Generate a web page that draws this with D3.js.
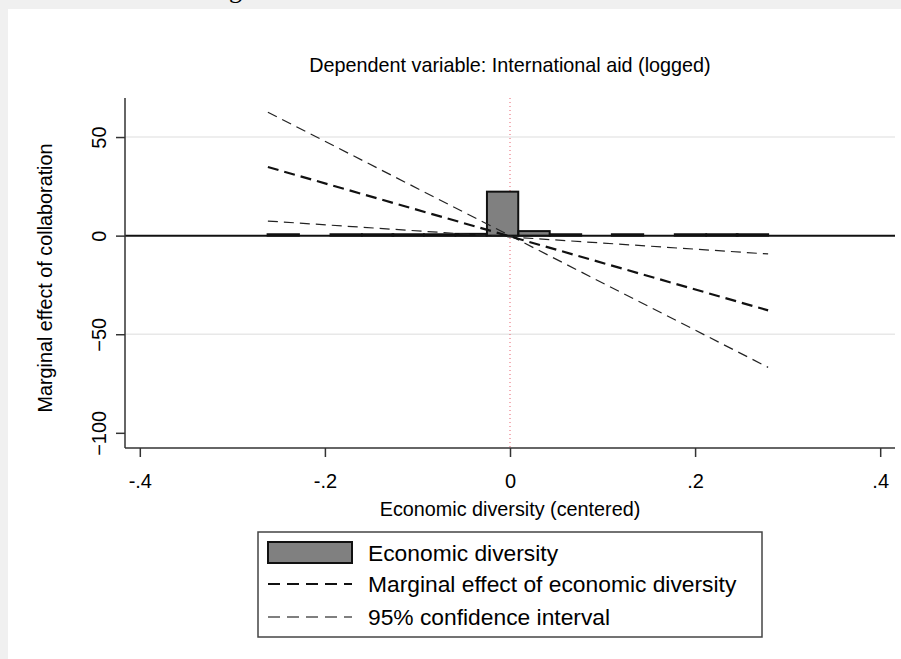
<!DOCTYPE html>
<html>
<head>
<meta charset="utf-8">
<script src="https://cdn.jsdelivr.net/npm/d3@7"></script>
<style>
  body { margin: 0; background: #f0f0f0; }
  text { font-family: "Liberation Sans", Arial, sans-serif; fill: #000; }
</style>
</head>
<body>
<div id="chart"></div>
<script>
// chart data
const lineX = [-0.2616, 0.2789]
const effect = [34.8, -37.9]
// the two confidence bounds cross near zero
const ciBoundA = [62.6, -66.8]
const ciBoundB = [7.4, -9.3]

const binCenters = [-0.245, -0.211, -0.177, -0.143, -0.110, -0.076, -0.042, -0.008,
                    0.026, 0.060, 0.093, 0.127, 0.161, 0.195, 0.229, 0.262]
const binHeights = [0.7, 0, 0.7, 0.7, 0.7, 0.7, 0.9, 22.3, 2.3, 0.7, 0, 0.7, 0, 0.7, 0.7, 0.7]
const binWidth = 0.0338

const xTicks = [-0.4, -0.2, 0, 0.2, 0.4]
const xTickLabels = ["-.4", "-.2", "0", ".2", ".4"]
const yTicks = [-100, -50, 0, 50]
const yGrid = [-50, 50]

const title = "Dependent variable: International aid (logged)"
const xTitle = "Economic diversity (centered)"
const yTitle = "Marginal effect of collaboration"
const legendLabels = ["Economic diversity", "Marginal effect of economic diversity", "95% confidence interval"]

const width = 901, height = 659
const plot = {left: 125, right: 895, top: 98, bottom: 448}

const svg = d3.select("#chart").append("svg")
    .attr("width", width)
    .attr("height", height)

svg.append("rect").attr("width", width).attr("height", height).attr("fill", "#f0f0f0")
svg.append("rect").attr("x", 8).attr("y", 9).attr("width", width - 8).attr("height", height - 9).attr("fill", "#fff")

// leftover of a cropped heading above the figure
svg.append("text").attr("x", 229).attr("y", -2)
    .style("font-family", "'Liberation Serif', serif").style("font-size", "26px")
    .text("g")

const x = d3.scaleLinear().domain([-0.416, 0.416]).range([plot.left, plot.right])
const y = d3.scaleLinear().domain([-107.7, 69.8]).range([plot.bottom, plot.top])

// grid
svg.append("g").selectAll("line").data(yGrid).join("line")
    .attr("x1", plot.left).attr("x2", plot.right)
    .attr("y1", d => y(d)).attr("y2", d => y(d))
    .attr("stroke", "#e8e8e8").attr("stroke-width", 1.5)

// zero line
svg.append("line")
    .attr("x1", plot.left).attr("x2", plot.right)
    .attr("y1", y(0)).attr("y2", y(0))
    .attr("stroke", "#111").attr("stroke-width", 2)

// red dotted x=0
svg.append("line")
    .attr("x1", x(0)).attr("x2", x(0))
    .attr("y1", plot.top).attr("y2", plot.bottom)
    .attr("stroke", "#e8606e").attr("stroke-width", 1)
    .attr("stroke-dasharray", "1,3")

// histogram
const bins = binCenters.map((c, i) => ({c: c, h: binHeights[i]})).filter(d => d.h > 0)
svg.append("g").selectAll("rect").data(bins).join("rect")
    .attr("x", d => x(d.c - binWidth / 2))
    .attr("width", d => x(d.c + binWidth / 2) - x(d.c - binWidth / 2))
    .attr("y", d => y(d.h))
    .attr("height", d => y(0) - y(d.h))
    .attr("fill", "#808080")
    .attr("stroke", "#111")
    .attr("stroke-width", 2)

// lines
const line = d3.line().x(d => x(d[0])).y(d => y(d[1]))
const series = [
    {vals: ciBoundA, w: 1.2, dash: "10,6", col: "#222"},
    {vals: ciBoundB, w: 1.2, dash: "10,6", col: "#222"},
    {vals: effect, w: 2.2, dash: "11,6", col: "#111"}
]
svg.append("g").selectAll("path").data(series).join("path")
    .attr("d", s => line(lineX.map((v, i) => [v, s.vals[i]])))
    .attr("fill", "none")
    .attr("stroke", s => s.col)
    .attr("stroke-width", s => s.w)
    .attr("stroke-dasharray", s => s.dash)

// axes
const xAxis = svg.append("g").attr("transform", `translate(0,${plot.bottom})`)
    .call(d3.axisBottom(x).tickValues(xTicks).tickFormat((d, i) => xTickLabels[i]).tickSize(9).tickSizeOuter(0))
xAxis.select(".domain").attr("stroke", "#333").attr("stroke-width", 1.5)
    .attr("d", `M${plot.left},0H${plot.right}`)
xAxis.selectAll(".tick line").attr("stroke", "#333").attr("stroke-width", 1.5)
xAxis.selectAll(".tick text").attr("dy", "28px").style("font-size", "20px")
    .style("font-family", "'Liberation Sans', Arial, sans-serif")

const yAxis = svg.append("g").attr("transform", `translate(${plot.left},0)`)
    .call(d3.axisLeft(y).tickValues(yTicks).tickFormat(d3.format("d")).tickSize(9).tickSizeOuter(0))
yAxis.select(".domain").attr("stroke", "#333").attr("stroke-width", 1.5)
    .attr("d", `M0,${plot.top}V${plot.bottom}`)
yAxis.selectAll(".tick line").attr("stroke", "#333").attr("stroke-width", 1.5)
yAxis.selectAll(".tick text")
    .attr("x", null)
    .attr("text-anchor", "middle")
    .attr("transform", "translate(-26,0) rotate(-90)")
    .attr("dy", "0.35em")
    .style("font-size", "20px")
    .style("font-family", "'Liberation Sans', Arial, sans-serif")

// titles
svg.append("text").attr("x", x(0)).attr("y", 72)
    .attr("text-anchor", "middle").style("font-size", "19.8px").text(title)
svg.append("text").attr("x", x(0)).attr("y", 516)
    .attr("text-anchor", "middle").style("font-size", "19.8px").text(xTitle)
svg.append("text")
    .attr("transform", "translate(52,278) rotate(-90)")
    .attr("text-anchor", "middle").style("font-size", "19.8px").text(yTitle)

// legend
const lg = svg.append("g").attr("transform", "translate(258,532)")
lg.append("rect").attr("width", 504).attr("height", 105)
    .attr("fill", "#fff").attr("stroke", "#444").attr("stroke-width", 1.5)
lg.append("rect").attr("x", 10).attr("y", 10).attr("width", 84).attr("height", 21)
    .attr("fill", "#808080").attr("stroke", "#111").attr("stroke-width", 2)
lg.append("line").attr("x1", 10).attr("x2", 94).attr("y1", 52).attr("y2", 52)
    .attr("stroke", "#111").attr("stroke-width", 2.2).attr("stroke-dasharray", "12,7")
lg.append("line").attr("x1", 10).attr("x2", 94).attr("y1", 85).attr("y2", 85)
    .attr("stroke", "#555").attr("stroke-width", 1.3).attr("stroke-dasharray", "12,7")
lg.selectAll("text.lab").data(legendLabels).join("text")
    .attr("class", "lab")
    .attr("x", 110)
    .attr("y", (d, i) => [21, 52.5, 85][i])
    .attr("dy", "0.35em")
    .style("font-size", "22.8px")
    .text(d => d)
</script>
</body>
</html>
